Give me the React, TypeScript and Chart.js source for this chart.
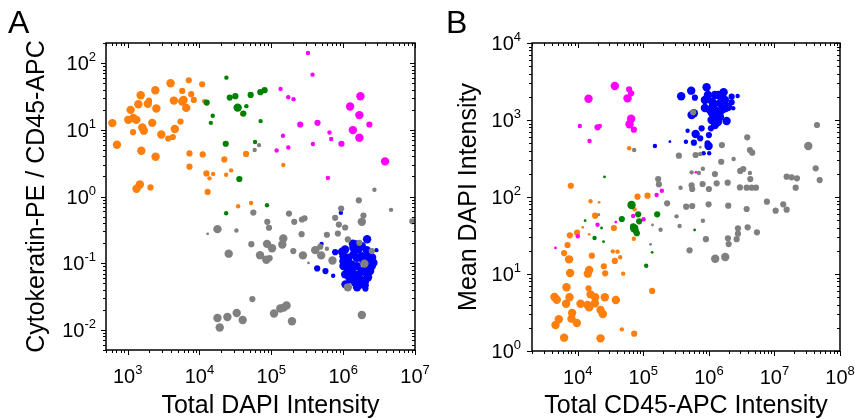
import React, { useEffect, useRef } from 'react';
import { Chart, registerables } from 'chart.js';

Chart.register(...registerables);

const FONT = '"Liberation Sans", Arial, Helvetica, sans-serif';

// [x, y, sizeClass]  sizeClass: 0 = tiny, 1 = small, 2 = medium, 3 = large
type Pt = [number, number, number];

// ---------------- Panel A : Total DAPI vs Cytokeratin-PE / CD45-APC ----------------
const A_ORANGE: Pt[] = [
  [613, 12.6, 3], [710, 5.97, 3], [1100, 19.9, 3], [1520, 33, 3], [1410, 24.2, 3], [1020, 14.1, 3],
  [1200, 15, 3], [1320, 14.1, 3], [1190, 9.2, 2], [1600, 10.8, 3], [1680, 9.7, 3], [1550, 4.85, 3],
  [1910, 24.5, 3], [1980, 27.4, 2], [2430, 39.2, 3], [2510, 20.8, 3], [2200, 12.7, 3], [2940, 8.5, 3],
  [2450, 3.95, 3], [1330, 1.31, 3], [1480, 1.51, 3], [2080, 1.37, 2], [3960, 49.9, 3], [4400, 27.4, 3],
  [4540, 10.3, 3], [3670, 7.4, 2], [4260, 7.8, 2], [5450, 13.3, 2], [5750, 38.3, 2], [5750, 26.5, 3],
  [6000, 28, 3], [6540, 21.3, 3], [7100, 55.3, 2], [7670, 34.2, 2], [8330, 28, 2], [10900, 48.2, 2],
  [11600, 26.9, 1], [7260, 4.43, 2], [7260, 2.8, 2], [11100, 4.27, 2], [12500, 2.22, 2], [13800, 1.87, 1],
  [15500, 2.18, 1], [13000, 1.17, 2], [22200, 3.6, 2], [23500, 2.12, 1], [27600, 2.46, 1], [44500, 4.34, 2],
  [39200, 17.2, 1], [147000, 2.97, 1], [34500, 0.714, 1], [52300, 0.8, 1],
];

const A_GREEN: Pt[] = [
  [23700, 60.5, 1], [26400, 30.4, 2], [31600, 31.9, 2], [34000, 21.5, 3], [45000, 22.6, 1], [40800, 17.5, 2],
  [51600, 33.3, 2], [70300, 36.6, 2], [80700, 39.2, 2], [12600, 25.6, 2], [15300, 16.2, 1], [14400, 12.7, 1],
  [71000, 13.5, 1], [23200, 6.18, 2], [59400, 6.55, 1], [35900, 1.83, 2], [87100, 0.738, 1], [23500, 0.561, 1],
];

const A_MAGENTA: Pt[] = [
  [323600, 141.6, 1], [374800, 67.1, 1], [134600, 41, 1], [172200, 30.8, 1], [204000, 28.8, 1], [252900, 12, 2],
  [439500, 12.7, 2], [145400, 8.13, 1], [172200, 5.43, 1], [118600, 4.9, 1], [379500, 6.11, 1], [645700, 9.11, 1],
  [681300, 7.26, 1], [946700, 6.18, 2], [1250000, 22.3, 3], [1738000, 31.9, 3], [1683000, 16.6, 3], [2317000, 12, 2],
  [1365000, 9.9, 3], [1683000, 7.59, 3], [3831000, 3.36, 3], [613600, 1.9, 1],
];

const A_BLUE: Pt[] = [
  [929000, 0.57, 1], [500000, 0.195, 1], [2900000, 0.157, 1], [774000, 0.1465, 2], [968000, 0.1486, 3],
  [1365000, 0.1955, 3], [2154000, 0.229, 3], [2131000, 0.157, 3], [435000, 0.0835, 2], [567000, 0.0762, 2],
  [726000, 0.065, 1], [1077000, 0.0482, 3], [2042000, 0.0416, 2], [2065000, 0.0466, 2],
  [1010000, 0.1074, 3], [1185000, 0.1208, 3], [1391000, 0.1354, 3], [1631000, 0.161, 3], [1820000, 0.1276, 3],
  [2371000, 0.1016, 3], [2506000, 0.0905, 3], [1124000, 0.0857, 3], [1320000, 0.0762, 3], [1549000, 0.0905, 3],
  [1820000, 0.0762, 3], [2131000, 0.068, 3], [1468000, 0.0607, 3], [1722000, 0.0573, 3], [2022000, 0.054, 3],
  [1066000, 0.068, 3], [1250000, 0.0573, 3], [2371000, 0.0762, 3], [1010000, 0.0905, 3], [1549000, 0.1208, 3],
  [1916000, 0.1074, 3], [2244000, 0.1276, 3], [1320000, 0.096, 3], [1631000, 0.068, 3], [2131000, 0.0857, 3],
  [1185000, 0.0641, 3], [1820000, 0.0482, 3], [1468000, 0.051, 3], [1010000, 0.1276, 3], [2636000, 0.1016, 3],
  [1391000, 0.1706, 3], [1820000, 0.1805, 3], [1066000, 0.1607, 3], [1517000, 0.191, 3], [2529000, 0.122, 3],
  [1250000, 0.096, 3], [2222000, 0.0614, 3], [1563000, 0.0435, 3],
];

const A_GRAY: Pt[] = [
  [938000, 0.659, 2], [1652000, 0.877, 2], [2722000, 1.26, 1], [4642000, 0.631, 1], [58600, 4.98, 1],
  [67500, 5.9, 1], [13000, 0.276, 0], [17800, 0.324, 3], [32700, 0.309, 1], [25500, 0.139, 3], [56200, 0.574, 2],
  [52700, 0.193, 2], [87900, 0.417, 2], [92900, 0.34, 2], [87100, 0.195, 3], [85300, 0.1127, 3], [94700, 0.119, 2],
  [69700, 0.132, 3], [102400, 0.168, 3], [142200, 0.191, 3], [146800, 0.235, 3], [176200, 0.555, 2],
  [208600, 0.417, 2], [266800, 0.452, 2], [290000, 0.472, 2], [263900, 0.272, 2], [202300, 0.152, 2],
  [275400, 0.131, 3], [329600, 0.101, 0], [408300, 0.157, 3], [479400, 0.1766, 2], [494600, 0.131, 3],
  [593800, 0.267, 2], [774300, 0.479, 2], [844200, 0.279, 2], [871000, 0.38, 2], [1066000, 0.343, 2],
  [1820000, 0.417, 3], [1916000, 0.518, 2], [709800, 0.11, 3], [1161000, 0.0435, 3], [1977000, 0.0986, 3],
  [9174000, 0.4256, 2], [2506000, 0.152, 2], [1820000, 0.01675, 3], [1161000, 0.227, 2], [1683000, 0.202, 2],
  [594000, 0.165, 1], [54450, 0.029, 2], [17800, 0.0151, 3], [19140, 0.01086, 3], [24490, 0.01565, 3],
  [32980, 0.01795, 3], [39940, 0.01409, 3], [109000, 0.01758, 3], [133400, 0.0209, 3], [148300, 0.0216, 3],
  [163100, 0.0232, 3], [193900, 0.0135, 3],
];

// ---------------- Panel B : Total CD45-APC vs Mean DAPI ----------------
const B_ORANGE: Pt[] = [
  [60700, 429, 1], [7820, 140, 2], [15630, 87.9, 1], [21130, 85.3, 0], [81500, 100.9, 2], [115800, 104, 2],
  [73400, 69.2, 1], [18380, 57.2, 2], [11920, 40.4, 0], [14900, 32.8, 0], [7550, 31.8, 2], [9750, 34.4, 2],
  [6970, 23.8, 2], [6180, 18.7, 2], [7360, 15.5, 3], [16370, 17.3, 2], [35480, 39.6, 2], [71600, 28.7, 1],
  [34200, 19.7, 1], [40400, 19.5, 1], [44300, 16.5, 1], [36700, 14.8, 2], [24950, 12.6, 2], [26140, 10.2, 2],
  [49200, 10.1, 1], [14900, 11.3, 3], [14210, 10.1, 3], [7620, 10.3, 3], [6710, 6.72, 3], [14560, 6.52, 2],
  [15630, 5.44, 3], [4400, 5.03, 3], [4780, 4.64, 3], [6620, 4.11, 3], [7470, 4.98, 3], [11000, 4.11, 3],
  [14060, 3.96, 3], [14900, 3.69, 3], [18190, 4.16, 3], [18380, 4.98, 3], [25830, 4.98, 3], [38020, 4.6, 3],
  [136200, 6.02, 2], [22220, 3.41, 3], [24100, 3.02, 3], [8190, 3.12, 3], [8010, 2.63, 3], [9650, 2.31, 3],
  [4570, 2.18, 3], [5130, 2.58, 3], [6180, 1.49, 3], [22220, 1.46, 3], [46950, 1.91, 1], [72400, 1.68, 2],
];

const B_GREEN: Pt[] = [
  [25580, 182, 0], [66070, 78.7, 3], [46950, 51.8, 2], [72400, 39.2, 3], [76700, 36.2, 2], [79600, 33.8, 2],
  [83400, 59.6, 2], [86300, 48.3, 2], [162600, 59.6, 2], [69800, 41.6, 2], [18000, 29.4, 1], [12920, 49.2, 0],
  [23000, 39.6, 0], [24680, 26.3, 0], [136200, 19.1, 0], [110400, 12.8, 1], [605000, 37.3, 0],
];

const B_MAGENTA: Pt[] = [
  [36730, 2766, 3], [60650, 2506, 2], [65100, 2222, 2], [57400, 1912, 3], [14560, 1891, 3], [65100, 1040, 3],
  [61500, 880, 3], [71600, 748, 2], [10730, 836, 1], [19990, 804, 2], [21680, 836, 1], [15100, 533, 1],
  [633800, 209, 0], [159200, 106, 1], [191600, 120.7, 1], [4570, 21.8, 0], [19990, 43.7, 1], [10000, 30.9, 1],
  [38020, 47.3, 0], [69800, 56.6, 1], [100700, 51.3, 1],
];

const B_BLUE: Pt[] = [
  [377600, 2032, 3], [536800, 2404, 3], [611100, 1949, 2], [590000, 1222, 3], [544500, 1161, 3], [922000, 2660, 3],
  [868600, 1820, 3], [1122000, 1729, 3], [1387000, 2113, 3], [1675000, 2291, 3], [1754000, 1820, 3],
  [1236000, 1349, 3], [1036000, 1349, 3], [1387000, 1104, 3], [1099000, 1000, 3], [1563000, 1349, 3],
  [2222000, 2009, 2], [2743000, 2051, 1], [2222000, 1699, 2], [2351000, 1419, 1], [1754000, 1419, 3],
  [1862000, 970, 3], [1472000, 1104, 3], [1236000, 861, 3], [1074000, 780, 2], [1000000, 638, 2], [774000, 780, 2],
  [627000, 658, 3], [737000, 578, 2], [590000, 507, 2], [473000, 726, 1], [446000, 523, 1], [955000, 498, 2],
  [989000, 459, 3], [830000, 370, 1], [1011000, 370, 1], [254000, 523, 0], [150000, 459, 1],
  [1236000, 2113, 3], [1472000, 1665, 3], [1151000, 1521, 3], [966000, 2113, 3], [1578000, 1932, 3],
  [1280000, 1161, 3], [869000, 1432, 3], [1112000, 1233, 3], [1950000, 1476, 3], [1372000, 942, 3],
];

const B_GRAY: Pt[] = [
  [575000, 1259, 2], [72400, 408, 1], [737000, 443, 0], [1578000, 473, 2], [3846000, 596, 2], [4227000, 408, 2],
  [4581000, 376, 2], [44560000, 861, 2], [32810000, 459, 3], [42560000, 236, 2], [48990000, 166, 2],
  [348300, 344, 2], [626600, 351, 2], [737000, 362, 1], [1542000, 287, 2], [2382000, 312, 1], [3003000, 218, 2],
  [3341000, 231, 2], [4276000, 171, 2], [4227000, 205, 1], [703000, 205, 1], [809000, 233, 1], [1236000, 199, 2],
  [544500, 209, 1], [168300, 171, 2], [172600, 146, 2], [369500, 132, 1], [556000, 127, 2], [544500, 141.6, 2],
  [801000, 147.5, 2], [1000000, 127, 2], [1313000, 150.6, 2], [1932000, 153.4, 2], [2972000, 133, 2],
  [3764000, 132, 2], [4487000, 132, 2], [5224000, 132, 2], [15350000, 183.6, 2], [18290000, 180, 2],
  [22060000, 175, 2], [21070000, 132, 2], [230700, 82.8, 2], [449800, 74.8, 2], [556000, 76.4, 2],
  [989000, 80.4, 2], [1972000, 77.1, 2], [7674000, 86.9, 2], [13610000, 80.4, 2], [3764000, 69.8, 2],
  [10420000, 66.4, 2], [15350000, 68.4, 2], [321000, 56.1, 1], [357000, 42, 1], [183000, 37.6, 1],
  [809000, 49.2, 1], [900000, 28.3, 2], [507000, 20.3, 2], [1248000, 15.8, 3], [1775000, 16.6, 3],
  [1950000, 29.1, 2], [2000000, 24.5, 2], [2650000, 28.3, 2], [2775000, 33.4, 2], [2775000, 39.2, 2],
  [3900000, 40.4, 2], [5410000, 34.8, 2], [138000, 43.3, 0], [128800, 24.3, 0], [20940, 58.9, 0],
];

// axis ranges
const A_X_RANGE = [500, 1e7];
const A_Y_RANGE = [0.005, 200];
const B_X_RANGE = [2000, 1e8];
const B_Y_RANGE = [1, 1e4];

const A_X_TITLE = 'Total DAPI Intensity';
const A_Y_TITLE = 'Cytokeratin-PE / CD45-APC';
const B_X_TITLE = 'Total CD45-APC Intensity';
const B_Y_TITLE = 'Mean DAPI Intensity';

const COLORS = {
  orange: '#FF7F0E',
  green: '#008000',
  magenta: '#FF00FF',
  blue: '#0000FF',
  gray: '#808080',
};
const RADII = [1.4, 2.2, 3.1, 4.2];
const TITLE_SIZE = 25;

function logTicks(min: number, max: number) {
  const out: { v: number; major: boolean; exp: number }[] = [];
  const d0 = Math.floor(Math.log10(min));
  const d1 = Math.ceil(Math.log10(max));
  for (let d = d0; d <= d1; d++) {
    for (let m = 1; m <= 9; m++) {
      const v = m * Math.pow(10, d);
      if (v >= min * 0.9999 && v <= max * 1.0001) out.push({ v, major: m === 1, exp: d });
    }
  }
  return out;
}

const framePlugin = {
  id: 'logFrame',
  afterDraw(chart: any, _args: any, opts: any) {
    const { ctx, chartArea } = chart;
    const { left, right, top, bottom } = chartArea;
    const xs = chart.scales.x;
    const ys = chart.scales.y;
    const MAJ = 5;
    const MIN = 3;
    ctx.save();
    ctx.strokeStyle = '#000';
    ctx.fillStyle = '#000';
    ctx.lineWidth = 1;
    ctx.beginPath();
    const xt = logTicks(xs.min, xs.max);
    const yt = logTicks(ys.min, ys.max);
    for (const t of xt) {
      const px = Math.round(xs.getPixelForValue(t.v)) + 0.5;
      const len = t.major ? MAJ : MIN;
      ctx.moveTo(px, bottom);
      ctx.lineTo(px, bottom + len);
      ctx.moveTo(px, top);
      ctx.lineTo(px, top + len);
    }
    for (const t of yt) {
      const py = Math.round(ys.getPixelForValue(t.v)) + 0.5;
      const len = t.major ? MAJ : MIN;
      ctx.moveTo(left - len, py);
      ctx.lineTo(left, py);
      ctx.moveTo(right - len, py);
      ctx.lineTo(right, py);
    }
    ctx.stroke();
    ctx.lineWidth = 1.5;
    ctx.strokeRect(left, top, right - left, bottom - top);

    const drawPow = (exp: number, x: number, y: number, align: 'center' | 'right') => {
      const e = String(exp);
      ctx.font = `20px ${FONT}`;
      const wb = ctx.measureText('10').width;
      ctx.font = `13px ${FONT}`;
      const we = ctx.measureText(e).width;
      const total = wb + we;
      const x0 = align === 'center' ? x - total / 2 : x - total;
      ctx.textAlign = 'left';
      ctx.textBaseline = 'alphabetic';
      ctx.font = `20px ${FONT}`;
      ctx.fillText('10', x0, y);
      ctx.font = `13px ${FONT}`;
      ctx.fillText(e, x0 + wb, y - 9);
    };
    for (const t of xt) {
      if (!t.major) continue;
      drawPow(t.exp, xs.getPixelForValue(t.v), bottom + 33, 'center');
    }
    for (const t of yt) {
      if (!t.major) continue;
      drawPow(t.exp, left - (opts.yGap ?? 10), ys.getPixelForValue(t.v) + 7.2, 'right');
    }

    // x-axis title (drawn here so that it can sit slightly off-centre like the original)
    if (opts.xTitle) {
      ctx.font = `${TITLE_SIZE}px ${FONT}`;
      ctx.textAlign = 'center';
      ctx.textBaseline = 'alphabetic';
      ctx.fillText(opts.xTitle, (left + right) / 2 + (opts.xTitleShift ?? 0), chart.height - 6);
    }
    ctx.restore();
  },
};

function toData(arr: Pt[]) {
  return arr.map(([x, y, w]) => ({ x, y, w }));
}

interface PanelProps {
  series: { label: string; color: string; data: Pt[]; order: number }[];
  xRange: number[];
  yRange: number[];
  xTitle: string;
  yTitle: string;
  yAxisWidth: number;
  xAxisHeight: number;
  rightPad: number;
  yTitlePad: number;
  yGap: number;
  xTitleShift: number;
}

function Panel(props: PanelProps) {
  const ref = useRef<HTMLCanvasElement | null>(null);
  useEffect(() => {
    if (!ref.current) return;
    const chart = new Chart(ref.current, {
      type: 'scatter',
      data: {
        datasets: props.series.map((s) => ({
          label: s.label,
          data: toData(s.data) as any,
          backgroundColor: s.color,
          borderColor: s.color,
          borderWidth: 0,
          order: s.order,
          pointRadius: (ctx: any) => RADII[ctx.raw ? ctx.raw.w : 2],
          pointHoverRadius: (ctx: any) => RADII[ctx.raw ? ctx.raw.w : 2],
        })),
      },
      options: {
        animation: false,
        responsive: false,
        maintainAspectRatio: false,
        events: [],
        layout: { padding: { left: 0, right: props.rightPad, top: 43, bottom: 0 } },
        plugins: {
          legend: { display: false },
          tooltip: { enabled: false },
          logFrame: { yGap: props.yGap, xTitle: props.xTitle, xTitleShift: props.xTitleShift },
        } as any,
        scales: {
          x: {
            type: 'logarithmic',
            min: props.xRange[0],
            max: props.xRange[1],
            grid: { display: false },
            border: { display: false },
            ticks: { display: false },
            title: { display: false, text: props.xTitle },
            afterFit: (s: any) => {
              s.height = props.xAxisHeight;
            },
          },
          y: {
            type: 'logarithmic',
            min: props.yRange[0],
            max: props.yRange[1],
            grid: { display: false },
            border: { display: false },
            ticks: { display: false },
            title: {
              display: true,
              text: props.yTitle,
              color: '#000',
              font: { family: FONT, size: TITLE_SIZE },
              padding: { top: props.yTitlePad, bottom: 0 },
            },
            afterFit: (s: any) => {
              s.width = props.yAxisWidth;
            },
          },
        },
      },
      plugins: [framePlugin],
    });
    return () => chart.destroy();
  }, []);
  return <canvas ref={ref} width={430} height={419} style={{ width: 430, height: 419, display: 'block' }} />;
}

const letterStyle: React.CSSProperties = {
  position: 'absolute',
  top: 6,
  fontFamily: FONT,
  fontSize: 32,
  lineHeight: '32px',
  color: '#000',
};

export default function App() {
  const seriesA = [
    { label: 'orange', color: COLORS.orange, data: A_ORANGE, order: 4 },
    { label: 'magenta', color: COLORS.magenta, data: A_MAGENTA, order: 3 },
    { label: 'green', color: COLORS.green, data: A_GREEN, order: 2 },
    { label: 'blue', color: COLORS.blue, data: A_BLUE, order: 1 },
    { label: 'gray', color: COLORS.gray, data: A_GRAY, order: 0 },
  ];
  const seriesB = [
    { label: 'orange', color: COLORS.orange, data: B_ORANGE, order: 4 },
    { label: 'magenta', color: COLORS.magenta, data: B_MAGENTA, order: 3 },
    { label: 'green', color: COLORS.green, data: B_GREEN, order: 2 },
    { label: 'blue', color: COLORS.blue, data: B_BLUE, order: 1 },
    { label: 'gray', color: COLORS.gray, data: B_GRAY, order: 0 },
  ];
  return (
    <div style={{ position: 'absolute', left: 0, top: 0, width: 855, height: 419, background: '#fff', overflow: 'hidden' }}>
      <div style={{ position: 'absolute', left: 0, top: 0 }}>
        <Panel
          series={seriesA}
          xRange={A_X_RANGE}
          yRange={A_Y_RANGE}
          xTitle={A_X_TITLE}
          yTitle={A_Y_TITLE}
          yAxisWidth={106}
          xAxisHeight={69}
          rightPad={15}
          yTitlePad={22}
          yGap={10}
          xTitleShift={10}
        />
      </div>
      <div style={{ position: 'absolute', left: 425, top: 0 }}>
        <Panel
          series={seriesB}
          xRange={B_X_RANGE}
          yRange={B_Y_RANGE}
          xTitle={B_X_TITLE}
          yTitle={B_Y_TITLE}
          yAxisWidth={107}
          xAxisHeight={68}
          rightPad={15}
          yTitlePad={29}
          yGap={11}
          xTitleShift={0}
        />
      </div>
      <div style={{ ...letterStyle, left: 8 }}>A</div>
      <div style={{ ...letterStyle, left: 446 }}>B</div>
    </div>
  );
}
